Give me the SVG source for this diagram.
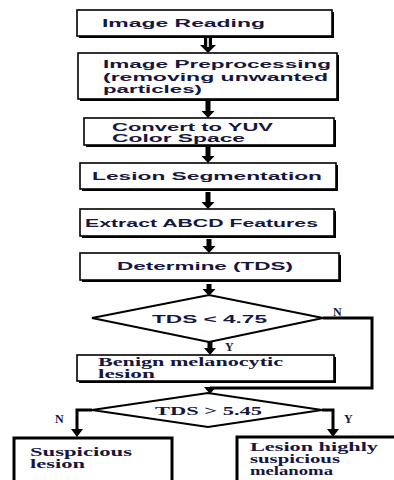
<svg xmlns="http://www.w3.org/2000/svg" width="394" height="480" viewBox="0 0 394 480">
<style>
.bg{fill:#ffffff}
.sh{fill:#000000}
.bx{fill:#ffffff;stroke:#000000;stroke-width:1.6}
.bx3{fill:#ffffff;stroke:#000000;stroke-width:3}
.dm{fill:#ffffff;stroke:#000000;stroke-width:2.2}
.t{font-family:"Liberation Sans",Arial,sans-serif;font-weight:bold;font-size:11.5px;fill:#16163e}
.s{font-family:"Liberation Serif","Times New Roman",serif;font-weight:bold;font-size:12px;fill:#16163e}
.sb{font-family:"Liberation Serif","Times New Roman",serif;font-weight:bold;font-size:11.5px;fill:#16163e}
.lb{font-family:"Liberation Serif","Times New Roman",serif;font-weight:bold;font-size:12px;fill:#16163e}
.arr{fill:#000000}
.ln{fill:none;stroke:#000000;stroke-width:3}
</style>
<rect class="bg" x="0" y="0" width="394" height="480"/>

<g id="connectors">
  <path class="arr" d="M204 37 H212 V45 H216 L208 53 L200 45 H204 Z"/>
  <line x1="208" y1="37" x2="208" y2="47" stroke="#ffffff" stroke-width="1.6"/>
  <path class="arr" d="M205.5 101 H210.5 V111 H214.5 L208 118 L201.5 111 H205.5 Z"/>
  <path class="arr" d="M205.5 147 H210.5 V156 H214.5 L208 163 L201.5 156 H205.5 Z"/>
  <path class="arr" d="M205.5 192 H210.5 V202 H214.5 L208 209 L201.5 202 H205.5 Z"/>
  <path class="arr" d="M206.5 239 H211.5 V246 H215.5 L209 253 L202.5 246 H206.5 Z"/>
  <path class="arr" d="M206.5 284 H211.5 V289 H215.5 L209 296 L202.5 289 H206.5 Z"/>
  <path class="arr" d="M207.5 342 H212.5 V348 H216 L210 355 L204 348 H207.5 Z"/>
  <polyline class="ln" points="323,318 372,318 372,388 210,388"/>
  <path class="arr" d="M204 387 H216 L210 394 Z"/>
  <polyline class="ln" points="92,410 77,410 77,430"/>
  <path class="arr" d="M71 429 H83 L77 437 Z"/>
  <polyline class="ln" points="322,410 333,410 333,430"/>
  <path class="arr" d="M327 429 H339 L333 437 Z"/>
  <text class="lb" x="333" y="316">N</text>
  <text class="lb" x="225" y="351">Y</text>
  <text class="lb" x="55" y="423">N</text>
  <text class="lb" x="344" y="423">Y</text>
</g>

<g id="n1">
  <rect class="sh" x="79" y="12" width="255" height="26"/>
  <rect class="bx" x="77" y="10" width="255" height="26"/>
  <text class="t" x="102" y="27" textLength="163" lengthAdjust="spacingAndGlyphs">Image Reading</text>
</g>

<g id="n2">
  <rect class="sh" x="80" y="55" width="259" height="46"/>
  <rect class="bx" x="78" y="53" width="259" height="46"/>
  <text class="t" x="103" y="68" textLength="228" lengthAdjust="spacingAndGlyphs">Image Preprocessing</text>
  <text class="t" x="103" y="80.5" textLength="225" lengthAdjust="spacingAndGlyphs">(removing unwanted</text>
  <text class="t" x="103" y="92.5" textLength="99" lengthAdjust="spacingAndGlyphs">particles)</text>
</g>

<g id="n3">
  <rect class="sh" x="86" y="120" width="250" height="27"/>
  <rect class="bx" x="84" y="118" width="250" height="27"/>
  <text class="t" x="112" y="130.5" textLength="161" lengthAdjust="spacingAndGlyphs">Convert to YUV</text>
  <text class="t" x="112" y="142" textLength="133" lengthAdjust="spacingAndGlyphs">Color Space</text>
</g>

<g id="n4">
  <rect class="sh" x="82" y="165" width="256" height="26"/>
  <rect class="bx" x="80" y="163" width="256" height="26"/>
  <text class="t" x="92" y="180" textLength="230" lengthAdjust="spacingAndGlyphs">Lesion Segmentation</text>
</g>

<g id="n5">
  <rect class="sh" x="82" y="211" width="254" height="27"/>
  <rect class="bx" x="80" y="209" width="254" height="27"/>
  <text class="t" x="85" y="227" textLength="233" lengthAdjust="spacingAndGlyphs">Extract ABCD Features</text>
</g>

<g id="n6">
  <rect class="sh" x="82" y="255" width="259" height="27"/>
  <rect class="bx" x="80" y="253" width="259" height="27"/>
  <text class="t" x="117" y="270" textLength="176" lengthAdjust="spacingAndGlyphs">Determine (TDS)</text>
</g>

<g id="d1">
  <polygon class="dm" points="92,318 209,295 323,318 209,342"/>
  <text class="t" x="152" y="323" textLength="115" lengthAdjust="spacingAndGlyphs">TDS &lt; 4.75</text>
</g>

<g id="n7">
  <rect class="sh" x="79" y="357" width="257" height="26"/>
  <rect class="bx" x="77" y="355" width="257" height="26"/>
  <text class="sb" x="98" y="365.5" textLength="185" lengthAdjust="spacingAndGlyphs">Benign melanocytic</text>
  <text class="sb" x="98" y="377.5" textLength="57" lengthAdjust="spacingAndGlyphs">lesion</text>
</g>

<g id="d2">
  <polygon class="dm" points="92,410 208,393 322,410 208,427"/>
  <text class="s" x="155" y="415" textLength="107" lengthAdjust="spacingAndGlyphs">TDS &gt; 5.45</text>
</g>

<g id="n8">
  <rect class="bx3" x="14" y="438" width="158" height="50"/>
  <text class="sb" x="30" y="456" textLength="102" lengthAdjust="spacingAndGlyphs">Suspicious</text>
  <text class="sb" x="30" y="468" textLength="55" lengthAdjust="spacingAndGlyphs">lesion</text>
</g>

<g id="n9">
  <rect class="bx3" x="237" y="437" width="170" height="50"/>
  <text class="sb" x="250" y="451" textLength="128" lengthAdjust="spacingAndGlyphs">Lesion highly</text>
  <text class="sb" x="250" y="463" textLength="90" lengthAdjust="spacingAndGlyphs">suspicious</text>
  <text class="sb" x="250" y="475" textLength="83" lengthAdjust="spacingAndGlyphs">melanoma</text>
</g>
</svg>
